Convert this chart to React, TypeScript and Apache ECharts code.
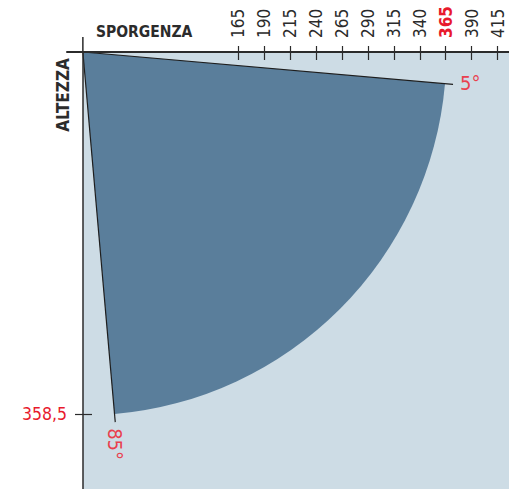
import React, { useEffect, useRef } from 'react';
import * as echarts from 'echarts';

// Data
const xTicks = [165, 190, 215, 240, 265, 290, 315, 340, 365, 390, 415];
const highlightTick = 365;
const yTicks = [358.5];
const sectorAngles = [5, 85]; // degrees below horizontal
const sectorRadius = [360]; // in ALTEZZA units
const edgeLineRadius = [368];
const originX = [15.3]; // x value where the vertical axis sits
const xTitle = 'SPORGENZA';
const yTitle = 'ALTEZZA';

const FONT = "'Liberation Sans Narrow', 'DejaVu Sans Condensed', 'Roboto Condensed', sans-serif";
const RED = '#e8192c';
const LIGHT_RED = '#e9404e';
const DARK = '#2b2b2b';

export default function App() {
  const ref = useRef<HTMLDivElement>(null);
  useEffect(() => {
    if (!ref.current) return;
    const chart = echarts.init(ref.current, null, { renderer: 'svg' });
    const deg = Math.PI / 180;
    const option: any = {
      animation: false,
      grid: { left: 67, top: 52, right: 0, bottom: 0, containLabel: false },
      xAxis: [
        {
          type: 'value', min: 0, max: 426, position: 'top',
          axisLine: { show: true, lineStyle: { color: DARK, width: 2 } },
          axisTick: { show: true, inside: true, length: 8, customValues: xTicks, lineStyle: { color: DARK, width: 1.2 } },
          axisLabel: {
            show: true, customValues: xTicks, rotate: 90, margin: 14,
            formatter: (v: number) => (v === highlightTick ? `{h|${v}}` : `{n|${v}}`),
            rich: {
              n: { fontFamily: FONT, fontSize: 17, color: DARK },
              h: { fontFamily: FONT, fontSize: 17, color: RED, fontWeight: 'bold' },
            },
          },
          splitLine: { show: false },
        },
        {
          type: 'value', min: 0, max: 426, position: 'top',
          axisLine: { show: false },
          axisTick: { show: true, inside: false, length: 6, customValues: xTicks, lineStyle: { color: DARK, width: 1.2 } },
          axisLabel: { show: false },
          splitLine: { show: false },
        },
      ],
      yAxis: [
        {
          type: 'value', min: 0, max: 432.8, inverse: true, position: 'left', offset: -16,
          axisLine: { show: true, lineStyle: { color: DARK, width: 1.5 } },
          axisTick: { show: true, inside: true, length: 9, customValues: yTicks, lineStyle: { color: DARK, width: 1.2 } },
          axisLabel: {
            show: true, customValues: yTicks, margin: 16,
            formatter: (v: number) => String(v).replace('.', ','),
            fontFamily: FONT, fontSize: 17.5, color: RED,
          },
          splitLine: { show: false },
        },
        {
          type: 'value', min: 0, max: 432.8, inverse: true, position: 'left', offset: -16,
          axisLine: { show: false },
          axisTick: { show: true, inside: false, length: 8, customValues: yTicks, lineStyle: { color: DARK, width: 1.2 } },
          axisLabel: { show: false },
          splitLine: { show: false },
        },
      ],
      graphic: [
        {
          type: 'text', x: 96, y: 32,
          style: { text: xTitle, fontFamily: FONT, fontSize: 15.5, fontWeight: 'bold', fill: DARK, align: 'left', verticalAlign: 'middle' },
        },
        {
          type: 'text', x: 63, y: 95, rotation: Math.PI / 2,
          style: { text: yTitle, fontFamily: FONT, fontSize: 17, fontWeight: 'bold', fill: DARK, align: 'center', verticalAlign: 'middle' },
        },
      ],
      series: [
        {
          type: 'custom', coordinateSystem: 'cartesian2d', xAxisIndex: 0, yAxisIndex: 0,
          z: -1, clip: false, silent: true,
          data: [[originX[0], 0, sectorAngles[0], sectorAngles[1], sectorRadius[0], edgeLineRadius[0]]],
          renderItem: (params: any, api: any) => {
            const o = api.coord([api.value(0), api.value(1)]);
            const a0 = api.value(2) * deg;
            const a1 = api.value(3) * deg;
            const r = api.size([0, api.value(4)])[1];
            const rl = api.size([0, api.value(5)])[1];
            const cs = params.coordSys;
            const e0 = [o[0] + rl * Math.cos(a0), o[1] + rl * Math.sin(a0)];
            const e1 = [o[0] + rl * Math.cos(a1), o[1] + rl * Math.sin(a1)];
            return {
              type: 'group',
              children: [
                {
                  type: 'rect',
                  shape: { x: o[0], y: o[1], width: cs.x + cs.width - o[0], height: cs.y + cs.height - o[1] },
                  style: { fill: '#cddce5' },
                },
                {
                  type: 'sector',
                  shape: { cx: o[0], cy: o[1], r0: 0, r, startAngle: a0, endAngle: a1, clockwise: true },
                  style: { fill: '#5a7e9b' },
                },
                { type: 'line', shape: { x1: o[0], y1: o[1], x2: e0[0], y2: e0[1] }, style: { stroke: '#1e1e1e', lineWidth: 1.2 } },
                { type: 'line', shape: { x1: o[0], y1: o[1], x2: e1[0], y2: e1[1] }, style: { stroke: '#1e1e1e', lineWidth: 1.2 } },
                { type: 'line', shape: { x1: o[0], y1: o[1], x2: o[0], y2: o[1] - 15 }, style: { stroke: DARK, lineWidth: 1.5 } },
                {
                  type: 'text', x: e0[0] + 7, y: e0[1] - 1,
                  style: { text: `${api.value(2)}°`, fontFamily: FONT, fontSize: 20, fill: LIGHT_RED, align: 'left', verticalAlign: 'middle' },
                },
                {
                  type: 'text', x: e1[0], y: e1[1] + 6, rotation: -Math.PI / 2,
                  style: { text: `${api.value(3)}°`, fontFamily: FONT, fontSize: 20, fill: LIGHT_RED, align: 'left', verticalAlign: 'middle' },
                },
              ],
            };
          },
        },
      ],
    };
    chart.setOption(option);
    return () => chart.dispose();
  }, []);
  return <div ref={ref} style={{ width: 509, height: 489, position: 'absolute', left: 0, top: 0 }} />;
}
